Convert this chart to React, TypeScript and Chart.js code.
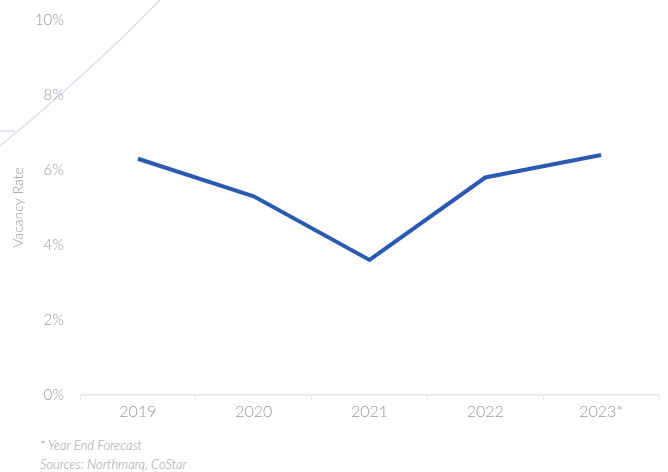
import React, { useEffect, useRef } from "react";
import { Chart, registerables } from "chart.js";

Chart.register(...registerables);

const categories = ["2019", "2020", "2021", "2022", "2023*"];
const vacancyRate = [6.3, 5.3, 3.6, 5.8, 6.4];
const yTicks = [0, 2, 4, 6, 8, 10];
const footnotes = ["* Year End Forecast", "Sources: Northmarq, CoStar"];

const FONT = "Lato, 'Noto Sans', sans-serif";
const GRAY = "#999999";

const decoPlugin = {
  id: "deco",
  beforeDraw(chart: any) {
    const ctx = chart.ctx;
    ctx.save();
    ctx.strokeStyle = "#dcdcf2";
    ctx.lineWidth = 1.5;
    ctx.beginPath();
    ctx.moveTo(0, 146);
    ctx.quadraticCurveTo(90, 72, 160, 0);
    ctx.stroke();
    ctx.beginPath();
    ctx.moveTo(0, 131);
    ctx.lineTo(15, 131);
    ctx.stroke();
    ctx.restore();
  },
};

export default function App() {
  const ref = useRef<HTMLCanvasElement>(null);
  useEffect(() => {
    if (!ref.current) return;
    const chart = new Chart(ref.current, {
      type: "line",
      data: {
        labels: categories,
        datasets: [
          {
            data: vacancyRate,
            borderColor: "#2a5bb0",
            borderWidth: 4,
            pointRadius: 0,
            tension: 0,
            fill: false,
          },
        ],
      },
      options: {
        animation: false,
        responsive: false,
        maintainAspectRatio: false,
        layout: { padding: { top: 20, right: 9, left: 0, bottom: 0 } },
        plugins: { legend: { display: false }, tooltip: { enabled: false } },
        scales: {
          x: {
            offset: true,
            grid: {
              display: true,
              drawOnChartArea: false,
              drawTicks: true,
              tickLength: 6,
              color: "#dfe7f2",
              offset: true,
            },
            border: { display: true, color: "#dfe7f2", width: 1.5 },
            ticks: {
              color: GRAY,
              font: { family: FONT, size: 16, weight: "300" },
              padding: 1,
            },
            afterFit(scale: any) {
              scale.height = 35;
            },
          },
          y: {
            min: 0,
            max: 10,
            afterBuildTicks(scale: any) {
              scale.ticks = yTicks.map((v) => ({ value: v }));
            },
            grid: { display: false },
            border: { display: false },
            ticks: {
              color: GRAY,
              font: { family: FONT, size: 15, weight: "300" },
              padding: 8,
              callback: (v: any) => v + "%",
            },
            title: {
              display: true,
              text: "Vacancy Rate",
              color: GRAY,
              font: { family: FONT, size: 14, weight: "300" },
              padding: { top: 10, bottom: 0 },
            },
            afterFit(scale: any) {
              scale.width = 80;
            },
          },
        },
      },
      plugins: [decoPlugin],
    } as any);
    return () => chart.destroy();
  }, []);

  return (
    <div style={{ position: "absolute", left: 0, top: 0, width: 668, height: 472, background: "#fff" }}>
      <canvas ref={ref} width={668} height={430} style={{ position: "absolute", left: 0, top: 0, width: 668, height: 430 }} />
      <div
        style={{
          position: "absolute",
          left: 40,
          top: 436,
          fontFamily: FONT,
          fontStyle: "italic",
          fontWeight: 300,
          fontSize: 13,
          lineHeight: "19px",
          color: GRAY,
        }}
      >
        {footnotes.map((t) => (
          <div key={t}>{t}</div>
        ))}
      </div>
    </div>
  );
}
